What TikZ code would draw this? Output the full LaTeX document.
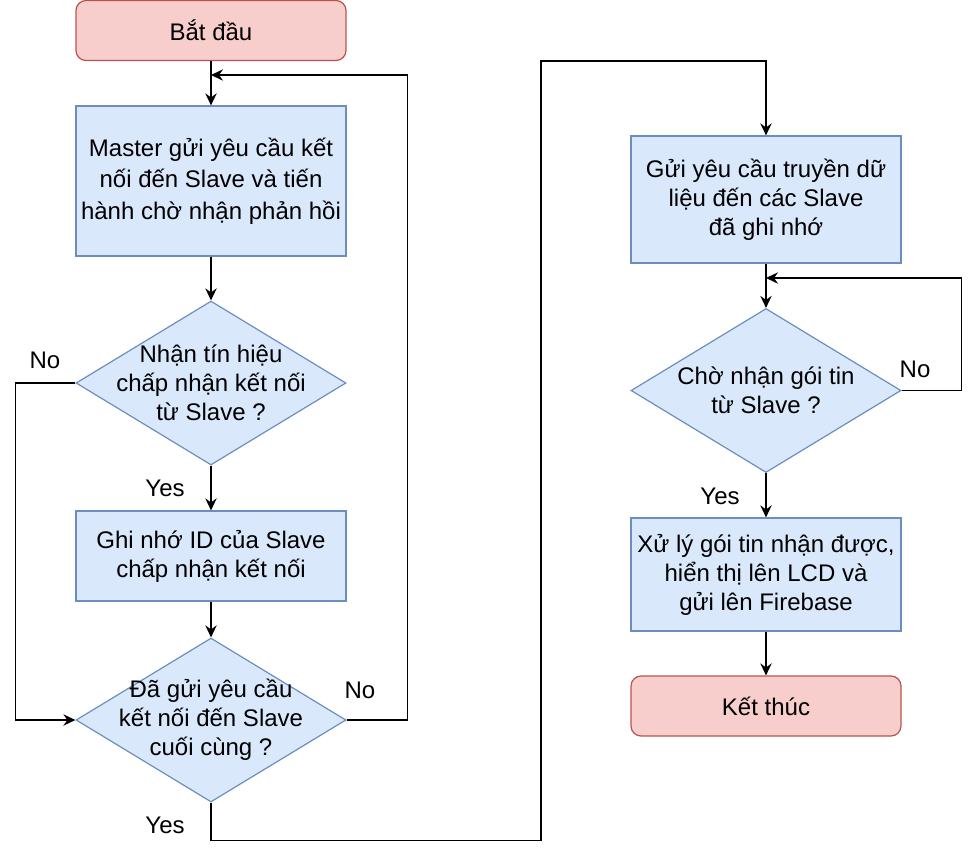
\documentclass[tikz,border=0pt]{standalone}
\usepackage{fontspec}
\setmainfont{Liberation Sans}
\usetikzlibrary{shapes.geometric,arrows.meta}
\definecolor{rfill}{HTML}{F8CECC}
\definecolor{rdraw}{HTML}{B85450}
\definecolor{bfill}{HTML}{DAE8FC}
\definecolor{bdraw}{HTML}{6C8EBF}
\tikzset{
  txt/.style={font=\fontsize{18pt}{21.75pt}\selectfont, align=center, inner sep=0pt},
  term/.style={txt, draw=rdraw, fill=rfill, line width=0.9pt, rounded corners=7.5pt, minimum width=202.5pt},
  proc/.style={txt, draw=bdraw, fill=bfill, line width=0.9pt, minimum width=202.5pt},
  dia/.style={diamond, draw=bdraw, fill=bfill, line width=0.9pt, minimum width=202.5pt, minimum height=123pt, inner sep=0pt},
  arr/.style={draw=black, line width=1.1pt, -{Stealth[length=9pt, width=8.5pt, inset=3pt]}},
  lbl/.style={txt}
}
\begin{document}
\begin{tikzpicture}[x=0.75pt, y=-0.75pt]
\useasboundingbox (0,0) rectangle (974,854);
% left column
\node[term, minimum height=45pt] (start) at (211,30.5) {Bắt đầu};
\node[proc, minimum height=112.5pt, font=\fontsize{18pt}{23.5pt}\selectfont] (master) at (211,181) {Master gửi yêu cầu kết\\nối đến Slave và tiến\\hành chờ nhận phản hồi};
\node[dia] (d1) at (211,383) {};
\node[txt] (d1t) at (211,383) {Nhận tín hiệu\\chấp nhận kết nối\\từ Slave ?};
\node[proc, minimum height=67.5pt] (ghi) at (211,556) {Ghi nhớ ID của Slave\\chấp nhận kết nối};
\node[dia] (d2) at (211,720) {};
\node[txt] (d2t) at (211,720) {Đã gửi yêu cầu\\kết nối đến Slave\\cuối cùng ?};
% right column
\node[proc, minimum height=95.25pt] (gui) at (766,199.5) {Gửi yêu cầu truyền dữ\\liệu đến các Slave\\đã ghi nhớ};
\node[dia] (d3) at (766,390.5) {};
\node[txt] (d3t) at (766,390.5) {Chờ nhận gói tin\\từ Slave ?};
\node[proc, minimum height=84.75pt] (xuly) at (766,574.5) {Xử lý gói tin nhận được,\\hiển thị lên LCD và\\gửi lên Firebase};
\node[term, minimum height=45pt] (end) at (766,706) {Kết thúc};
% junction coordinates
\coordinate (j1) at (211,75);
\coordinate (k1) at (541,61);
\coordinate (j2) at (766,278);
% connectors
\draw[arr] (start) -- (master);
\draw[arr] (master) -- (d1);
\draw[arr] (d1) -- (ghi);
\draw[arr] (ghi) -- (d2);
\draw[arr] (d2.east) -- ++(61,0) |- (j1);
\draw[arr] (d1.west) -- ++(-60,0) |- (d2.west);
\draw[arr] (d2.south) -- ++(0,38) -| (k1) -| (gui.north);
\draw[arr] (gui) -- (d3);
\draw[arr] (d3.east) -- ++(60,0) |- (j2);
\draw[arr] (d3) -- (xuly);
\draw[arr] (xuly) -- (end);
% labels
\node[lbl] (l1) at (45,360) {No};
\node[lbl] (l2) at (165,488) {Yes};
\node[lbl] (l3) at (360,690) {No};
\node[lbl] (l4) at (165,825) {Yes};
\node[lbl] (l5) at (915,369) {No};
\node[lbl] (l6) at (720,496) {Yes};
\end{tikzpicture}
\end{document}
